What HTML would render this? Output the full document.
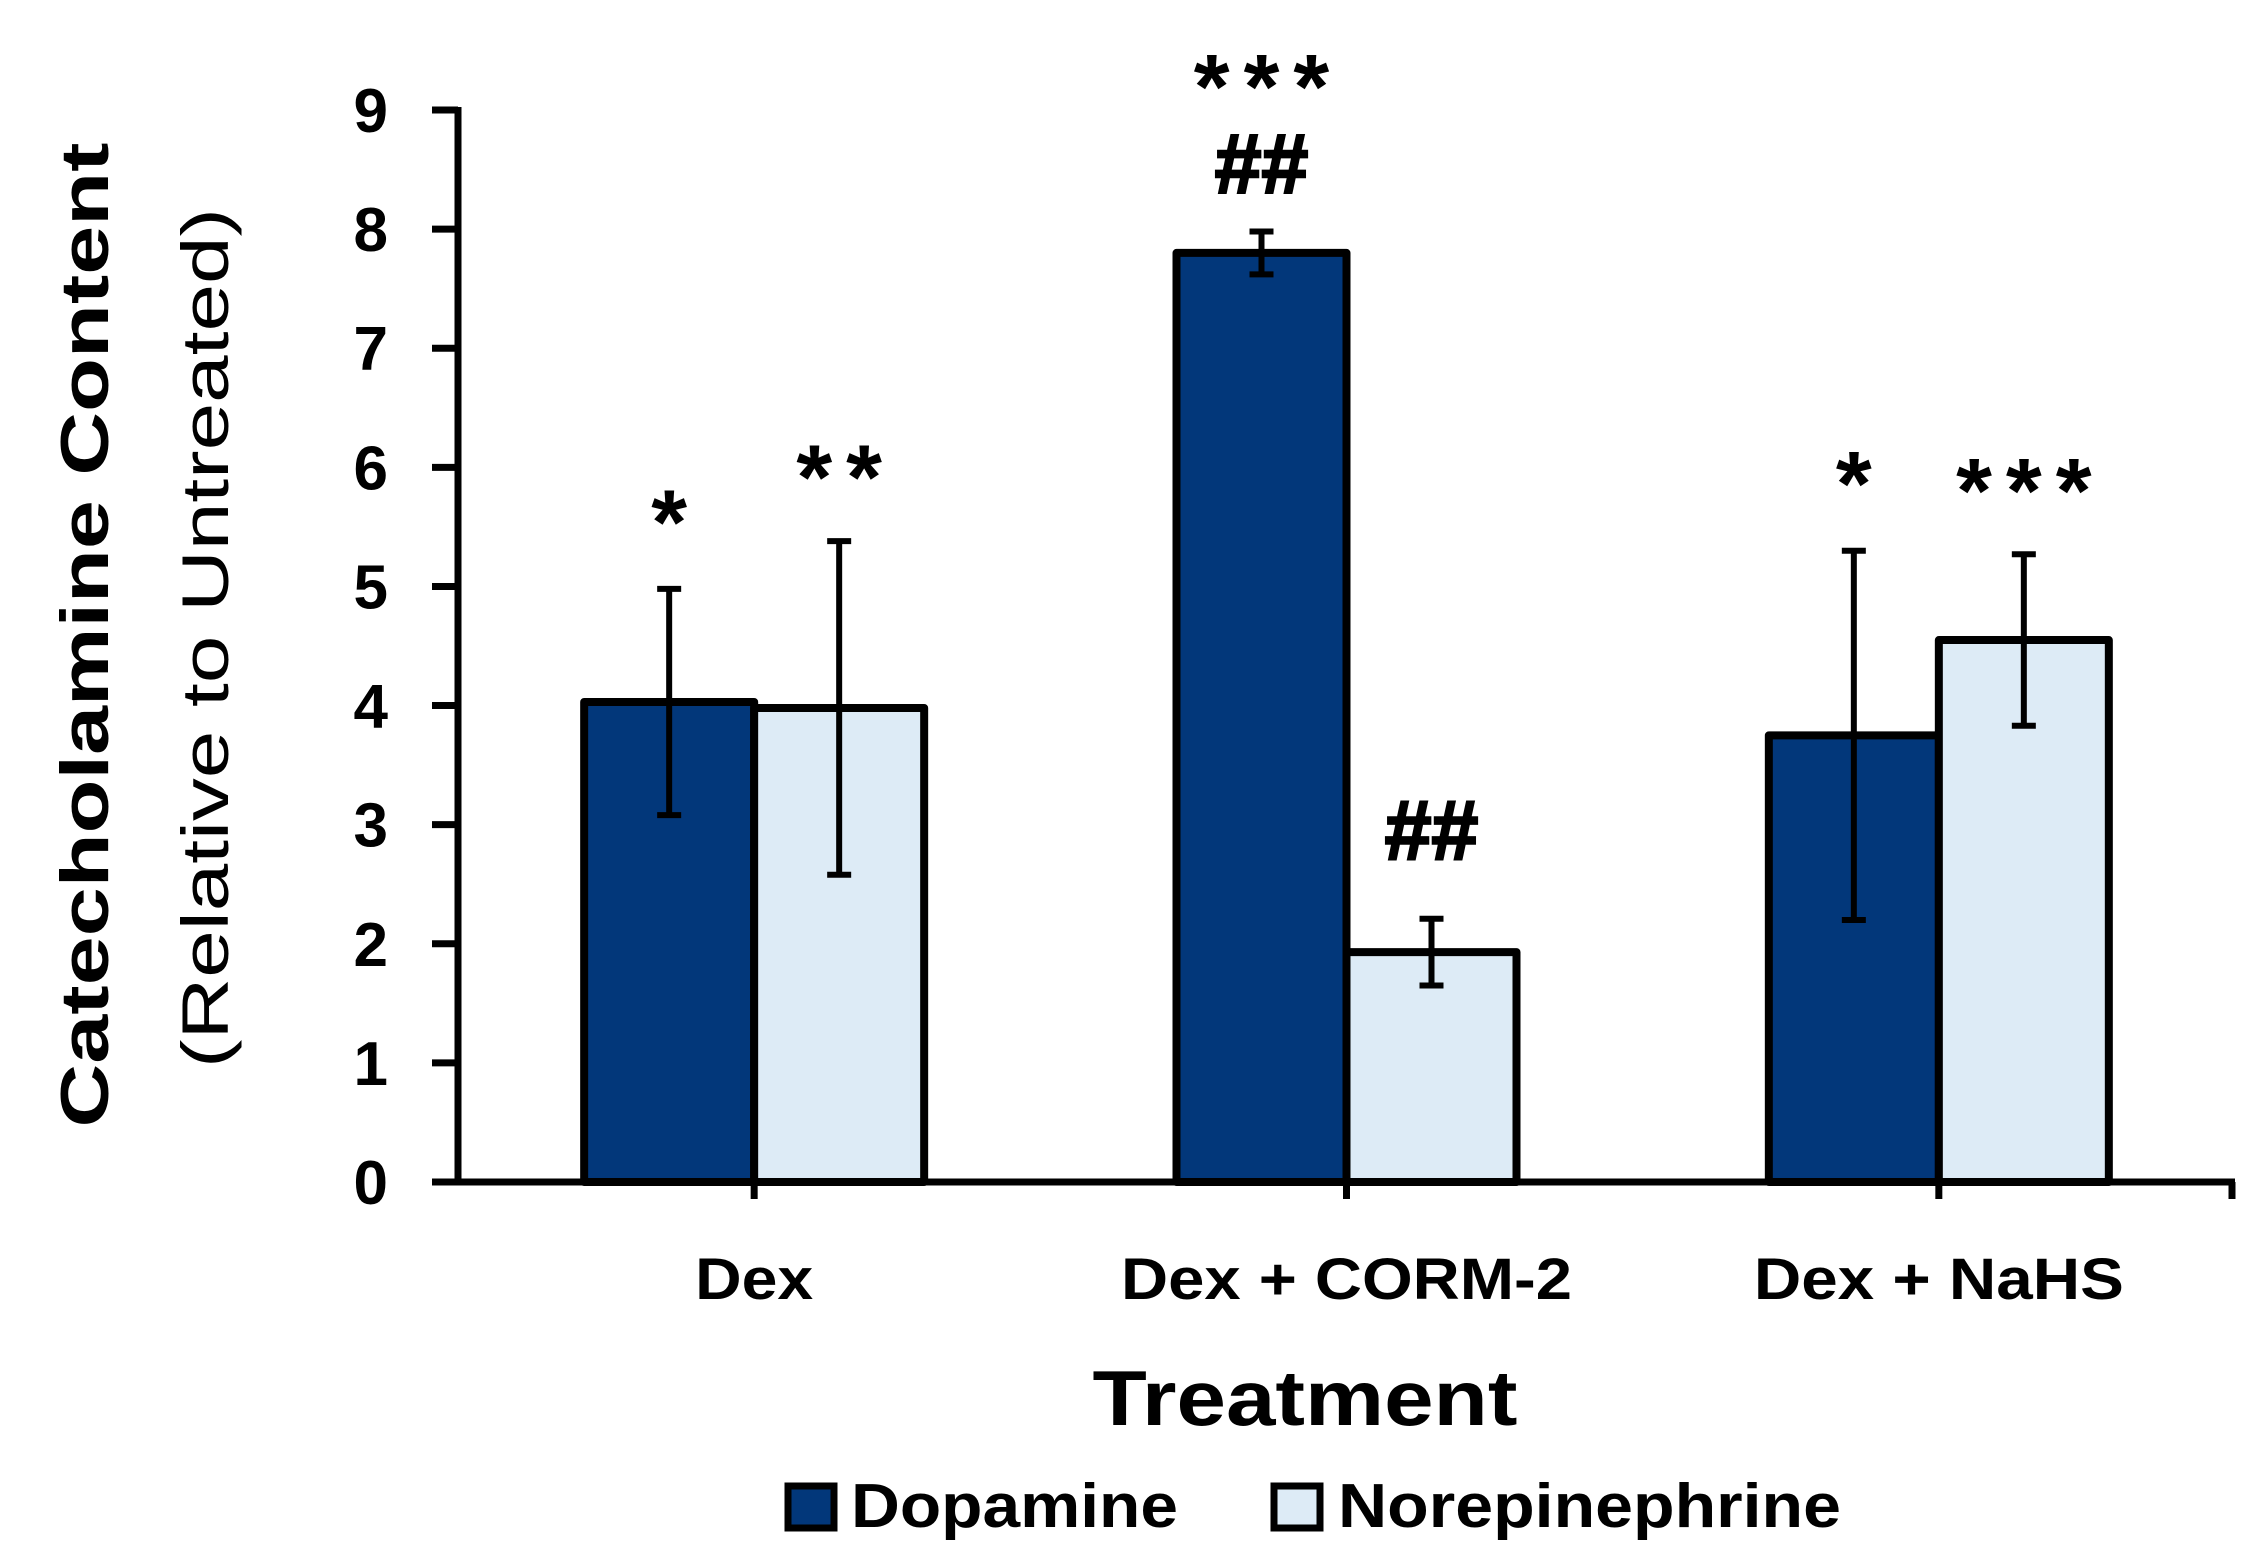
<!DOCTYPE html>
<html><head><meta charset="utf-8"><style>
html,body{margin:0;padding:0;background:#fff;}
svg{display:block;font-family:"Liberation Sans",sans-serif;}
</style></head><body>
<svg id="chart" width="2249" height="1565" viewBox="0 0 2249 1565">
<g id="yaxis"></g>
<g id="bars"></g>
<g id="xaxis"></g>
<g id="annots"></g>
<text transform="translate(108,635) rotate(-90)" text-anchor="middle" font-size="68" font-weight="bold" textLength="985" lengthAdjust="spacingAndGlyphs">Catecholamine Content</text>
<text transform="translate(228,638) rotate(-90)" text-anchor="middle" font-size="66" textLength="860" lengthAdjust="spacingAndGlyphs">(Relative to Untreated)</text>
<text x="1305" y="1425" text-anchor="middle" font-size="78" font-weight="bold" textLength="425" lengthAdjust="spacingAndGlyphs">Treatment</text>
<g>
<rect x="788" y="1486" width="46" height="42" fill="#02377a" stroke="#000" stroke-width="7"/>
<text x="851" y="1527" font-size="62" font-weight="bold" textLength="327" lengthAdjust="spacingAndGlyphs">Dopamine</text>
<rect x="1274" y="1486" width="46" height="42" fill="#ddebf6" stroke="#000" stroke-width="7"/>
<text x="1338" y="1527" font-size="62" font-weight="bold" textLength="503" lengthAdjust="spacingAndGlyphs">Norepinephrine</text>
</g>
</svg>
<script>
const categories = ["Dex", "Dex + CORM-2", "Dex + NaHS"];
const dopamine = [4.03, 7.8, 3.75];
const dopamineErr = [0.95, 0.18, 1.55];
const norepinephrine = [3.98, 1.93, 4.55];
const norepinephrineErr = [1.4, 0.28, 0.72];
const yTicks = [0,1,2,3,4,5,6,7,8,9];
const dopamineMarks = ["*", "***", "*"];
const dopamineMarks2 = ["", "##", ""];
const norepinephrineMarks = ["**", "##", "***"];

const NS = "http://www.w3.org/2000/svg";
const x0 = 458, x1 = 2235, y0 = 1182, yTop = 110, yMax = 9;
const catW = (x1 - x0) / categories.length;
const barW = 170;
const labelLen = [118, 451, 370];
function yScale(v){ return y0 - (v / yMax) * (y0 - yTop); }
function catCenter(i){ return x0 + catW * (i + 0.5); }
function mk(tag, attrs, parent){
  const e = document.createElementNS(NS, tag);
  for (const k in attrs) e.setAttribute(k, attrs[k]);
  parent.appendChild(e);
  return e;
}
const yaxis = document.getElementById('yaxis');
const xaxis = document.getElementById('xaxis');
const barsG = document.getElementById('bars');
const annots = document.getElementById('annots');

let el = mk('line', {x1:x0, y1:yTop-3, x2:x0, y2:y0+3, stroke:'#000', 'stroke-width':7}, yaxis);


yTicks.forEach(t => {
  const y = yScale(t);
  let tk = mk('line', {x1:x0-26, y1:y, x2:x0, y2:y, stroke:'#000', 'stroke-width':7}, yaxis);
  
  
  let lb = mk('text', {x:388, y:y+22, 'text-anchor':'end', 'font-size':62, 'font-weight':'bold'}, yaxis);
  lb.textContent = t;
  
  
});

function drawBar(cx, v, err, fill, name){
  const y = yScale(v);
  let r = mk('rect', {x:cx, y:y, width:barW, height:y0-y, fill:fill, stroke:'#000', 'stroke-width':8, 'stroke-linejoin':'round'}, barsG);
  
  
  const mx = cx + barW/2, ya = yScale(v+err), yb = yScale(v-err);
  const g = mk('g', {stroke:'#000', 'stroke-width':6}, barsG);
  
  
  mk('line', {x1:mx, y1:ya, x2:mx, y2:yb}, g);
  mk('line', {x1:mx-12, y1:ya, x2:mx+12, y2:ya}, g);
  mk('line', {x1:mx-12, y1:yb, x2:mx+12, y2:yb}, g);
  return ya;
}
function drawMark(txt, cx, y, kind){
  if (!txt) return;
  const star = txt.indexOf('*') >= 0;
  let t = mk('text', {x:cx + (star ? 7 : 0), y:y, 'text-anchor':'middle', 'font-size': star ? 92 : 84, 'font-weight':'bold', 'letter-spacing': star ? 14 : 0, stroke: star ? 'none' : '#000', 'stroke-width': star ? 0 : 2.5}, annots);
  t.textContent = txt;
  
  
}
categories.forEach((c, i) => {
  const cc = catCenter(i);
  const topD = drawBar(cc - barW, dopamine[i], dopamineErr[i], '#02377a', 'bar-dopamine-' + i);
  const topN = drawBar(cc, norepinephrine[i], norepinephrineErr[i], '#ddebf6', 'bar-norepinephrine-' + i);
  if (dopamineMarks2[i]) {
    drawMark(dopamineMarks2[i], cc - barW/2, topD - 39, 'hash-annotation');
    drawMark(dopamineMarks[i], cc - barW/2, topD - 113, 'star-annotation');
  } else {
    drawMark(dopamineMarks[i], cc - barW/2, topD - 35, 'star-annotation');
  }
  const nm = norepinephrineMarks[i];
  const isHash = nm.indexOf('#') >= 0;
  drawMark(nm, cc + barW/2, isHash ? topN - 60 : topN - 32, isHash ? 'hash-annotation' : 'star-annotation');
  let lb = mk('text', {x:cc, y:1299, 'text-anchor':'middle', 'font-size':58, 'font-weight':'bold', textLength:labelLen[i], lengthAdjust:'spacingAndGlyphs'}, xaxis);
  lb.textContent = c;
  
  
});
el = mk('line', {x1:x0-26, y1:y0, x2:x1, y2:y0, stroke:'#000', 'stroke-width':7}, xaxis);


for (let i = 0; i < categories.length; i++) {
  let tk = mk('line', {x1:catCenter(i), y1:y0, x2:catCenter(i), y2:y0+17, stroke:'#000', 'stroke-width':7}, xaxis);
  
  
}
let tkEnd = mk('line', {x1:x1-3, y1:y0, x2:x1-3, y2:y0+17, stroke:'#000', 'stroke-width':7}, xaxis);


</script>
</body></html>
